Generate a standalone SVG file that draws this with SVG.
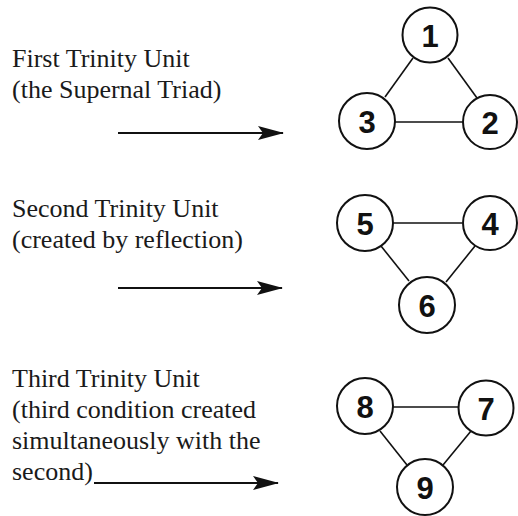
<svg xmlns="http://www.w3.org/2000/svg" width="518" height="516" viewBox="0 0 518 516">
<defs>
<marker id="ah" viewBox="0 0 26 14" refX="25" refY="7" markerWidth="26" markerHeight="14" markerUnits="userSpaceOnUse" orient="auto">
<path d="M0,0 L26,7 L0,14 L5,7 Z" fill="#111"/>
</marker>
</defs>
<rect width="518" height="516" fill="#fff"/>
<g id="labels" font-family="Times New Roman, Liberation Serif, serif" font-size="26" fill="#1a1a1a">
<text x="12" y="67">First Trinity Unit</text>
<text x="12" y="98">(the Supernal Triad)</text>
<text x="12" y="217">Second Trinity Unit</text>
<text x="12" y="248">(created by reflection)</text>
<text x="12" y="387">Third Trinity Unit</text>
<text x="12" y="418">(third condition created</text>
<text x="12" y="449">simultaneously with the</text>
<text x="12" y="480">second)</text>
</g>
<g id="connectors" stroke="#111" fill="none">
<g stroke-width="1.8" marker-end="url(#ah)">
<line x1="118" y1="133" x2="283" y2="133"/>
<line x1="118" y1="288" x2="282" y2="288"/>
<line x1="94" y1="483" x2="278" y2="483"/>
</g>
<g stroke-width="1.6">
<line x1="413" y1="58" x2="385" y2="97"/>
<line x1="448" y1="58" x2="477" y2="98"/>
<line x1="395" y1="122" x2="463" y2="122"/>
<line x1="393" y1="223" x2="462" y2="223"/>
<line x1="381" y1="246" x2="409" y2="281"/>
<line x1="475" y1="246" x2="446" y2="282"/>
<line x1="393" y1="407" x2="458" y2="407"/>
<line x1="380" y1="431" x2="407" y2="465"/>
<line x1="471" y1="431" x2="443" y2="465"/>
</g>
</g>
<g id="nodes" font-family="Liberation Sans, Arial, sans-serif" font-size="31" font-weight="bold" text-anchor="middle">
<g id="n1"><circle cx="430" cy="35" r="27.5" fill="#fff" stroke="#111" stroke-width="2"/><text x="430" y="46.5" fill="#111">1</text></g>
<g id="n2"><circle cx="490" cy="122" r="27" fill="#fff" stroke="#111" stroke-width="2"/><text x="490" y="133.5" fill="#111">2</text></g>
<g id="n3"><circle cx="367" cy="121" r="28" fill="#fff" stroke="#111" stroke-width="2"/><text x="367" y="132.5" fill="#111">3</text></g>
<g id="n4"><circle cx="490" cy="223" r="27" fill="#fff" stroke="#111" stroke-width="2"/><text x="490" y="234.5" fill="#111">4</text></g>
<g id="n5"><circle cx="365" cy="223" r="28" fill="#fff" stroke="#111" stroke-width="2"/><text x="365" y="234.5" fill="#111">5</text></g>
<g id="n6"><circle cx="427" cy="305" r="28" fill="#fff" stroke="#111" stroke-width="2"/><text x="427" y="316.5" fill="#111">6</text></g>
<g id="n7"><circle cx="486" cy="408" r="27.5" fill="#fff" stroke="#111" stroke-width="2"/><text x="486" y="419.5" fill="#111">7</text></g>
<g id="n8"><circle cx="365" cy="406" r="28" fill="#fff" stroke="#111" stroke-width="2"/><text x="365" y="417.5" fill="#111">8</text></g>
<g id="n9"><circle cx="425" cy="487" r="28" fill="#fff" stroke="#111" stroke-width="2"/><text x="425" y="498.5" fill="#111">9</text></g>
</g>
</svg>
